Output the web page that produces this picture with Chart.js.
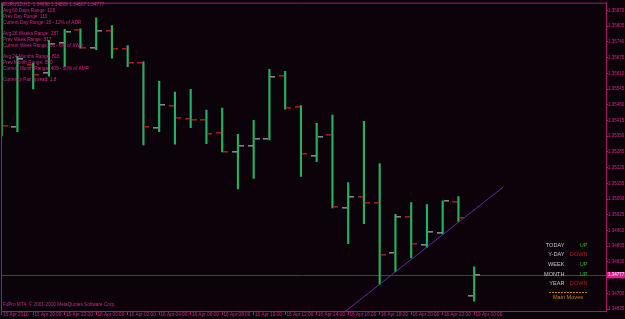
<!DOCTYPE html>
<html><head><meta charset="utf-8">
<script src="https://cdn.jsdelivr.net/npm/chart.js@4.4.1/dist/chart.umd.min.js"></script>
<style>html,body{margin:0;padding:0;background:#0c030a;overflow:hidden}#wrap{width:625px;height:319px;position:relative}canvas{display:block}</style>
</head><body><div id="wrap"><canvas id="c" width="625" height="319"></canvas></div>
<script>
// ---- data (EURUSD H1) ----
const barIndex = [0,1,2,3,4,5,6,7,8,9,10,11,12,13,14,15,16,17,18,19,20,21,22,23,24,25,26,27,28,29,30];
const opens  = [1.35800,1.35388,1.35643,1.35610,1.35735,1.35788,1.35716,1.35786,1.35710,1.35654,1.35385,1.35476,1.35420,1.35417,1.35362,1.35284,1.35308,1.35339,1.35599,1.35469,1.35270,1.35354,1.35052,1.35100,1.35074,1.34867,1.35015,1.34900,1.34949,1.35076,1.34690];
const highs  = [1.35920,1.35680,1.35651,1.35746,1.35792,1.35794,1.35840,1.35807,1.35725,1.35658,1.35577,1.35532,1.35544,1.35458,1.35466,1.35358,1.35415,1.35626,1.35618,1.35477,1.35403,1.35437,1.35158,1.35411,1.35237,1.35027,1.35075,1.35067,1.35083,1.35100,1.34809];
const lows   = [1.35351,1.35369,1.35545,1.35598,1.35639,1.35714,1.35708,1.35673,1.35638,1.35314,1.35369,1.35317,1.35385,1.35319,1.35285,1.35132,1.35175,1.35334,1.35462,1.35183,1.35245,1.35053,1.34905,1.34988,1.34737,1.34790,1.34846,1.34890,1.34946,1.34997,1.34667];
const closes = [1.35393,1.35668,1.35602,1.35733,1.35782,1.35714,1.35784,1.35712,1.35652,1.35388,1.35477,1.35425,1.35417,1.35358,1.35286,1.35310,1.35339,1.35596,1.35465,1.35276,1.35346,1.35058,1.35099,1.35074,1.34860,1.35016,1.34904,1.34953,1.35081,1.35012,1.34777];
const tickBars = [0,2,4,6,8,10,12,14,16,18,20,22,24,26,28,30];
const timeLabels = ["15 Apr 2010","15 Apr 20:00","15 Apr 22:00","16 Apr 00:00","16 Apr 02:00","16 Apr 04:00","16 Apr 06:00","16 Apr 08:00","16 Apr 10:00","16 Apr 12:00","16 Apr 14:00","16 Apr 16:00","16 Apr 18:00","16 Apr 20:00","16 Apr 22:00","19 Apr 00:00"];
const priceTicks = [1.34635,1.34700,1.34765,1.34830,1.34895,1.34960,1.35025,1.35090,1.35155,1.35220,1.35285,1.35350,1.35415,1.35480,1.35545,1.35610,1.35675,1.35740,1.35805,1.35870];
const bidPrice = 1.34777;
const trendBars = [21.5, 31.85];
const trendPrices = [1.34609, 1.35140];
const infoLines = ["EURUSD,H1  1.34690 1.34809 1.34667 1.34777","Avg 66 Days Range: 128","Prev Day Range: 110","Current Day Range: 15 - 12% of ADR","Avg 26 Weeks Range: 287","Prev Week Range: 317","Current Week Range: 16 - 6% of AWR","Avg 24 Months Range: 816","Prev Month Range: 550","Current Month Range: 409 - 50% of AMR","Currency Pair spread: 1.8"];
const infoRows = [0,1,2,3,5,6,7,9,10,11,13];
const moveNames = ["TODAY","Y-DAY","WEEK","MONTH","YEAR"];
const moveDirs = ["UP","DOWN","UP","UP","DOWN"];
const copyright = "FxPro MT4, \u00A9 2001-2010 MetaQuotes Software Corp.";

// ---- styles ----
const BG = '#0c030a', AXIS = '#a8186e', TXT = '#d0268a', GREEN = '#24b062';
const FONT = '"Liberation Sans", Arial, sans-serif';

const bgPlugin = {
  id:'bg',
  beforeDraw(chart){ const c=chart.ctx; c.save(); c.fillStyle=BG; c.fillRect(0,0,chart.width,chart.height); c.restore(); },
  beforeDatasetsDraw(chart){
    const {ctx, chartArea:a, scales:{y}} = chart;
    const yb = Math.round(y.getPixelForValue(bidPrice)) + 0.5;
    ctx.save(); ctx.strokeStyle='#3a463c'; ctx.lineWidth=1;
    ctx.beginPath(); ctx.moveTo(a.left, yb); ctx.lineTo(a.right, yb); ctx.stroke(); ctx.restore();
  },
  afterDatasetsDraw(chart){
    const {ctx, chartArea:a, scales:{x,y}} = chart;
    ctx.save();
    ctx.beginPath(); ctx.rect(a.left,a.top,a.right-a.left,a.bottom-a.top); ctx.clip();
    barIndex.forEach((n,i)=>{
      const px = Math.round(x.getPixelForValue(n));
      const up = closes[i] >= opens[i];
      ctx.fillStyle = up ? '#858585' : '#a81818';
      const yo = Math.round(y.getPixelForValue(opens[i]));
      const yc = Math.round(y.getPixelForValue(closes[i]));
      ctx.fillRect(px-6, yo-1, 5, 1.6);
      ctx.fillRect(px+1, yc-1, 5, 1.6);
    });
    ctx.restore();
  },
  afterDraw(chart){
    const {ctx, chartArea:a, scales:{y}} = chart;
    ctx.save();
    ctx.strokeStyle = AXIS; ctx.lineWidth = 1;
    ctx.beginPath(); ctx.moveTo(a.left+0.5, a.bottom); ctx.lineTo(a.left+0.5, a.top+0.5); ctx.lineTo(a.right, a.top+0.5); ctx.stroke();
    ctx.font = '4.7px ' + FONT; ctx.fillStyle = TXT; ctx.textBaseline='middle'; ctx.textAlign='left';
    infoLines.forEach((t,i)=> ctx.fillText(t, 3, 5 + infoRows[i]*5.75));
    ctx.fillText(copyright, 3, 305);
    ctx.font = '5.6px ' + FONT;
    moveNames.forEach((t,i)=>{
      const yy = 245 + i*9.7;
      ctx.textAlign='right'; ctx.fillStyle='#c4c4c4'; ctx.fillText(t, 564.5, yy);
      ctx.fillStyle = moveDirs[i]==='UP' ? '#22b822' : '#c41414';
      ctx.fillText(moveDirs[i], 587.5, yy);
    });
    ctx.strokeStyle='#c8820c'; ctx.setLineDash([2,1]); ctx.beginPath(); ctx.moveTo(549,292.5); ctx.lineTo(588,292.5); ctx.stroke(); ctx.setLineDash([]);
    ctx.fillStyle='#c8820c'; ctx.textAlign='center'; ctx.fillText('Main Moves', 568, 297);
    const yb = y.getPixelForValue(bidPrice);
    ctx.fillStyle='#e8168f'; ctx.fillRect(a.right+1, Math.round(yb)-3, chart.width-a.right-1, 6);
    ctx.fillStyle='#ffffff'; ctx.font='4.5px '+FONT; ctx.textAlign='left'; ctx.fillText(bidPrice.toFixed(5), a.right+2, yb);
    ctx.restore();
  }
};

new Chart(document.getElementById('c'), {
  type:'bar',
  data:{
    datasets:[
      { type:'bar', data: barIndex.map((n,i)=>({x:n, y:[lows[i], highs[i]]})), backgroundColor: GREEN, borderWidth:0, barThickness:1.5, order:2 },
      { type:'line', data: trendBars.map((n,i)=>({x:n, y:trendPrices[i]})), borderColor:'#5e2aa6', borderWidth:1, pointRadius:0, fill:false, order:1 }
    ]
  },
  options:{
    responsive:false, devicePixelRatio:1, animation:false,
    layout:{padding:{left:1, top:1, right:0, bottom:0}},
    plugins:{legend:{display:false}, tooltip:{enabled:false}, title:{display:false}},
    scales:{
      x:{
        type:'linear', offset:false, min:-0.044, max:38.37,
        grid:{drawOnChartArea:false, drawTicks:true, tickLength:4, color:AXIS, offset:false},
        border:{display:true, color:AXIS},
        afterBuildTicks(s){ s.ticks = tickBars.map(v=>({value:v})); },
        afterFit(s){ s.height = 8; },
        ticks:{ autoSkip:false, maxRotation:0, minRotation:0, align:'start', padding:-3, color:TXT,
          font:{size:4.7, family:FONT},
          callback:(v,i)=> ' ' + timeLabels[i] }
      },
      y:{
        type:'linear', position:'right', min:1.346268, max:1.359021,
        grid:{drawOnChartArea:false, drawTicks:true, tickLength:2, color:AXIS},
        border:{display:true, color:AXIS},
        afterBuildTicks(s){ s.ticks = priceTicks.map(v=>({value:v})); },
        afterFit(s){ s.width = 19; },
        ticks:{ autoSkip:false, padding:0, color:TXT, font:{size:4.5, family:FONT},
          callback:(v)=> Number(v).toFixed(5) }
      }
    }
  },
  plugins:[bgPlugin]
});
</script></body></html>
